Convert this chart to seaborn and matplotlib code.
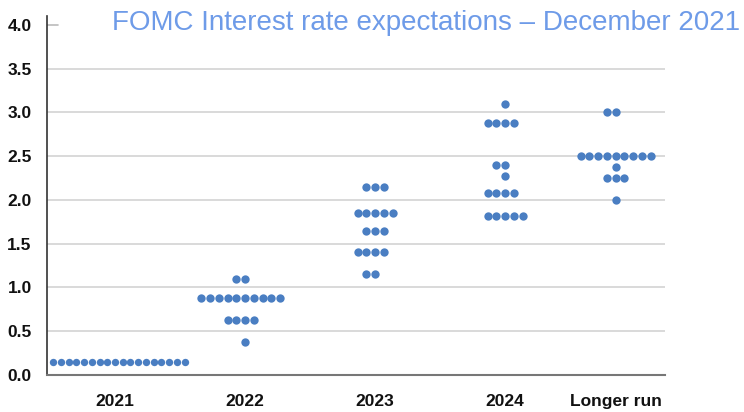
import numpy as np
import pandas as pd
import matplotlib
matplotlib.use("Agg")
import matplotlib.pyplot as plt
import seaborn as sns

# ---- data ----
categories = ["2021", "2022", "2023", "2024", "Longer run"]

levels_2021 = [0.15]
counts_2021 = [18]

levels_2022 = [1.1, 0.875, 0.625, 0.375]
counts_2022 = [2, 10, 4, 1]

levels_2023 = [2.15, 1.85, 1.65, 1.4, 1.15]
counts_2023 = [3, 5, 3, 4, 2]

levels_2024 = [3.1, 2.875, 2.4, 2.27, 2.08, 1.82]
counts_2024 = [1, 4, 2, 1, 4, 5]

levels_lr = [3.0, 2.5, 2.38, 2.25, 2.0]
counts_lr = [2, 9, 1, 3, 1]

y_ticks = [0.0, 0.5, 1.0, 1.5, 2.0, 2.5, 3.0, 3.5, 4.0]
title = "FOMC Interest rate expectations \u2013 December 2021"

# ---- layout / style (not data) ----
x_pos = [0.0, 0.5, 1.0, 1.5, 1.925]
dot_sizes = [5.3, 6.0, 6.0, 6.0, 6.0]

all_levels = [levels_2021, levels_2022, levels_2023, levels_2024, levels_lr]
all_counts = [counts_2021, counts_2022, counts_2023, counts_2024, counts_lr]

rows = []
for pos, cat, lv, ct in zip(x_pos, categories, all_levels, all_counts):
    for v in np.repeat(lv, ct):
        rows.append({"pos": pos, "category": cat, "rate": v})
df = pd.DataFrame(rows)

sns.set_theme(style="white")
plt.rcParams["font.family"] = ["Liberation Sans", "DejaVu Sans"]

fig = plt.figure(figsize=(7.44, 4.12), dpi=100)
ax = fig.add_axes([47 / 744, 37 / 412, (665 - 47) / 744, (375 - 16) / 412])
XLIM = (-0.2615, 2.115)
YLIM = (0, 4.1)
ax.set_xlim(*XLIM)
ax.set_ylim(*YLIM)

# gridlines
for yv in y_ticks[1:-1]:
    ax.axhline(yv, color="#d9d9d9", lw=1.4, zorder=0)
ax.axhline(4.0, xmin=0, xmax=0.017, color="#bbbbbb", lw=1.2, zorder=0)

for cat, sz in zip(categories, dot_sizes):
    sub = df[df["category"] == cat]
    sns.swarmplot(data=sub, x="pos", y="rate", native_scale=True, ax=ax,
                  color="#4A7EC2", size=sz, linewidth=0, zorder=3)
    ax.set_xlim(*XLIM)
    ax.set_ylim(*YLIM)

ax.set_xlim(*XLIM)
ax.set_ylim(*YLIM)
ax.set_xlabel("")
ax.set_ylabel("")

ax.set_xticks(x_pos)
ax.set_xticklabels(categories, fontsize=12.5, fontweight="bold", color="#111111")
ax.set_yticks(y_ticks)
ax.set_yticklabels([f"{t:.1f}" for t in y_ticks], fontsize=12.5,
                   fontweight="bold", color="#111111")
ax.tick_params(axis="x", length=0, pad=14)
ax.tick_params(axis="y", length=0, pad=11)

for s in ["top", "right"]:
    ax.spines[s].set_visible(False)
ax.spines["left"].set_color("#333333")
ax.spines["left"].set_linewidth(1.2)
ax.spines["bottom"].set_color("#777777")
ax.spines["bottom"].set_linewidth(1.5)

fig.text(0.995, 0.945, title, ha="right", va="center", fontsize=20,
         color="#6E9BE8")

fig.savefig("out.png", dpi=100)
